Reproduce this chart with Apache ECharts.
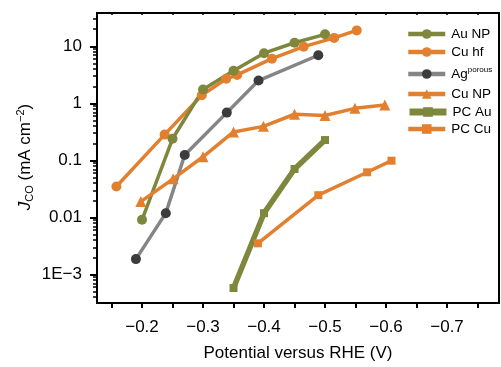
<!DOCTYPE html>
<html>
<head>
<meta charset="utf-8">
<script src="https://cdn.jsdelivr.net/npm/echarts@6/dist/echarts.min.js"></script>
<style>html,body{margin:0;padding:0;background:#fff;}#c{width:501px;height:367px;}</style>
</head>
<body>
<div id="c"></div>
<script>
// ---- data ----
const xTickLabels = [-0.2, -0.3, -0.4, -0.5, -0.6, -0.7];
const xMinorTicks = [-0.15, -0.2, -0.25, -0.3, -0.35, -0.4, -0.45, -0.5, -0.55, -0.6, -0.65, -0.7, -0.75];
const yTickLabels = [0.001, 0.01, 0.1, 1, 10];

const seriesNames = ['Au NP', 'Cu hf', 'Ag porous', 'Cu NP', 'PC Au', 'PC Cu'];

const auNP_x = [-0.20, -0.25, -0.30, -0.35, -0.40, -0.45, -0.50];
const auNP_y = [0.0091, 0.24, 1.75, 3.75, 7.6, 11.6, 16.3];

const cuHf_x = [-0.158, -0.237, -0.298, -0.338, -0.356, -0.413, -0.465, -0.515, -0.552];
const cuHf_y = [0.035, 0.284, 1.39, 2.7, 3.16, 6.1, 9.9, 14.1, 19.1];

const ag_x = [-0.190, -0.239, -0.270, -0.339, -0.391, -0.489];
const ag_y = [0.00186, 0.0119, 0.125, 0.69, 2.52, 7.0];

const cuNP_x = [-0.198, -0.251, -0.300, -0.350, -0.399, -0.450, -0.500, -0.549, -0.598];
const cuNP_y = [0.019, 0.0476, 0.116, 0.316, 0.396, 0.646, 0.614, 0.82, 0.935];

const pcAu_x = [-0.35, -0.40, -0.45, -0.50];
const pcAu_y = [0.00058, 0.0119, 0.0708, 0.228];

const pcCu_x = [-0.39, -0.489, -0.569, -0.609];
const pcCu_y = [0.00352, 0.0246, 0.062, 0.099];

// ---- styling ----
const OLIVE = '#7f873c';
const ORANGE = '#e2802f';
const GRAY = '#858585';
const DARK = '#3c3c3c';
const FONT = 'Liberation Sans';

const X_MIN = -0.7852, X_MAX = -0.1262;
const Y_MIN = Math.pow(10, -3.5), Y_MAX = Math.pow(10, 1.586);

const yMinor = [];
for (let d = -4; d <= 1; d++) {
  for (let k = 2; k <= 9; k++) {
    const v = k * Math.pow(10, d);
    if (v >= Y_MIN && v <= Y_MAX) yMinor.push(v);
  }
}

function zip(xs, ys) { return xs.map((x, i) => [x, ys[i]]); }
const fmtNum = v => {
  if (v === 0.001) return '1E\u22123';
  return String(v);
};

const chart = echarts.init(document.getElementById('c'), null, {renderer: 'canvas'});

function legendAt(name, top, lw, extra) {
  return Object.assign({
    data: [name],
    left: 406,
    top: top,
    orient: 'vertical',
    itemWidth: 37,
    itemHeight: 12,
    padding: 0,
    selectedMode: false,
    lineStyle: {width: lw},
    textStyle: {fontFamily: FONT, fontSize: 13.5, color: '#000', padding: [0, 0, 0, 1]}
  }, extra || {});
}

const option = {
  animation: false,
  backgroundColor: '#fff',
  grid: {left: 97, right: 2, top: 13, bottom: 59, show: true, borderColor: '#000', borderWidth: 2, containLabel: false},
  legend: [
    legendAt('Au NP', 27, 4.5),
    legendAt('Cu hf', 45, 4.5),
    legendAt('Ag porous', 66, 4.5, {
      formatter: () => '{a|Ag}{s|porous}',
      textStyle: {fontFamily: FONT, fontSize: 13.5, color: '#000', padding: [0, 0, 0, 1],
        rich: {a: {fontFamily: FONT, fontSize: 13.5, color: '#000', lineHeight: 16, verticalAlign: 'middle'},
               s: {fontFamily: FONT, fontSize: 8, color: '#000', lineHeight: 16, verticalAlign: 'top'}}}
    }),
    legendAt('Cu NP', 87, 4.5),
    legendAt('PC Au', 105, 7),
    legendAt('PC Cu', 122, 4.5)
  ],
  xAxis: [{
    type: 'value', inverse: true, min: X_MIN, max: X_MAX, position: 'bottom',
    name: 'Potential versus RHE (V)', nameLocation: 'middle', nameGap: 42,
    nameTextStyle: {fontFamily: FONT, fontSize: 17, color: '#000'},
    axisLine: {show: true, onZero: false, lineStyle: {color: '#000', width: 2}},
    axisTick: {show: true, inside: false, length: 5, customValues: xMinorTicks, lineStyle: {color: '#000', width: 2}},
    axisLabel: {customValues: xTickLabels, margin: 16, fontFamily: FONT, fontSize: 17, color: '#000',
      formatter: v => '\u2212' + Math.abs(v).toFixed(1)},
    splitLine: {show: false}
  }, {
    type: 'value', inverse: true, min: X_MIN, max: X_MAX, position: 'top',
    axisLine: {show: false},
    axisTick: {show: true, inside: true, length: 2, customValues: xMinorTicks, lineStyle: {color: '#000', width: 1.5}},
    axisLabel: {show: false},
    splitLine: {show: false}
  }],
  yAxis: [{
    type: 'log', logBase: 10, min: Y_MIN, max: Y_MAX, position: 'left',
    axisLine: {show: true, lineStyle: {color: '#000', width: 2}},
    axisTick: {show: true, inside: false, length: 7, customValues: yTickLabels, lineStyle: {color: '#000', width: 2}},
    axisLabel: {customValues: yTickLabels, margin: 15, fontFamily: FONT, fontSize: 17, color: '#000', formatter: fmtNum},
    splitLine: {show: false}
  }, {
    type: 'log', logBase: 10, min: Y_MIN, max: Y_MAX, position: 'left',
    axisLine: {show: false},
    axisTick: {show: true, inside: false, length: 4, customValues: yMinor, lineStyle: {color: '#000', width: 1.5}},
    axisLabel: {show: false},
    splitLine: {show: false}
  }],
  graphic: [{
    type: 'text', x: 25, y: 157, rotation: Math.PI / 2,
    style: {
      text: '{j|J}{sub|CO}{n| (mA cm}{sup|\u22122}{n|)}',
      align: 'center', verticalAlign: 'middle',
      rich: {
        j: {fontFamily: FONT, fontSize: 17, fontStyle: 'italic', fill: '#000', lineHeight: 24, verticalAlign: 'middle'},
        sub: {fontFamily: FONT, fontSize: 11, fill: '#000', lineHeight: 24, verticalAlign: 'bottom', padding: [0, 0, 2, 0]},
        n: {fontFamily: FONT, fontSize: 17, fill: '#000', lineHeight: 24, verticalAlign: 'middle'},
        sup: {fontFamily: FONT, fontSize: 11, fill: '#000', lineHeight: 24, verticalAlign: 'top', padding: [2, 0, 0, 0]}
      }
    }
  }],
  series: [
    {name: 'Cu hf', type: 'line', data: zip(cuHf_x, cuHf_y), symbol: 'circle', symbolSize: 10,
      lineStyle: {color: ORANGE, width: 3.5}, itemStyle: {color: ORANGE}},
    {name: 'Au NP', type: 'line', data: zip(auNP_x, auNP_y), symbol: 'circle', symbolSize: 10,
      lineStyle: {color: OLIVE, width: 3.5}, itemStyle: {color: OLIVE}},
    {name: 'Ag porous', type: 'line', data: zip(ag_x, ag_y), symbol: 'circle', symbolSize: 10,
      lineStyle: {color: GRAY, width: 3.5}, itemStyle: {color: DARK}},
    {name: 'Cu NP', type: 'line', data: zip(cuNP_x, cuNP_y), symbol: 'triangle', symbolSize: 11,
      lineStyle: {color: ORANGE, width: 3.5}, itemStyle: {color: ORANGE}},
    {name: 'PC Au', type: 'line', data: zip(pcAu_x, pcAu_y), symbol: 'rect', symbolSize: 8,
      lineStyle: {color: OLIVE, width: 5.5}, itemStyle: {color: OLIVE}},
    {name: 'PC Cu', type: 'line', data: zip(pcCu_x, pcCu_y), symbol: 'rect', symbolSize: 8,
      lineStyle: {color: ORANGE, width: 3.5}, itemStyle: {color: ORANGE}}
  ]
};
chart.setOption(option);
</script>
</body>
</html>
